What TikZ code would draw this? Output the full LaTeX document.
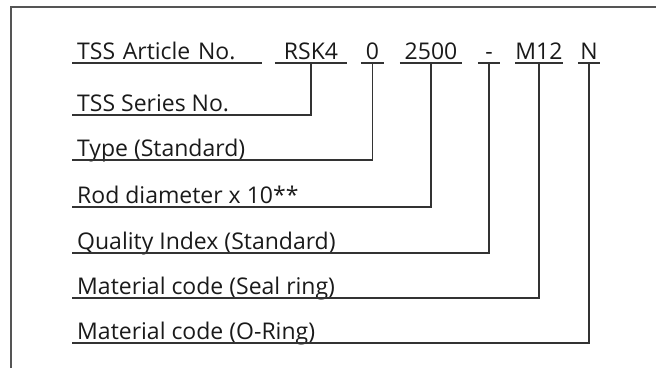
\documentclass[tikz,border=0pt]{standalone}
\usepackage{fontspec}
\setmainfont{Open Sans}
\definecolor{linec}{HTML}{333333}
\definecolor{framec}{HTML}{555555}
\definecolor{textc}{HTML}{1A1A1A}
\begin{document}
\begin{tikzpicture}[x=1pt,y=-1pt,
  ln/.style={draw=linec, line width=1.3pt},
  fr/.style={draw=framec, line width=1.5pt},
  txt/.style={inner ysep=0pt, text height=16pt, text depth=3pt,
    font=\fontsize{23}{27}\selectfont, text=textc},
  code/.style={txt, anchor=south, inner xsep=0pt},
  lab/.style={txt, anchor=south west, inner xsep=5pt}]
\useasboundingbox (0,0) rectangle (656,368);
% frame (open to the right and bottom)
\coordinate (fb) at (11,368);
\coordinate (ftl) at (11,7);
\coordinate (fr) at (656,7);
\draw[fr] (fb) -- (ftl) -- (fr);
% top row
\node[lab, text width=180pt, align=left] (art) at (72,63) {TSS Article No.};
\node[code, minimum width=72pt] (rsk) at (311,63) {RSK4};
\node[code, minimum width=23pt] (zero) at (372.5,63) {0};
\node[code, minimum width=62pt] (num) at (431,63) {2500};
\node[code, minimum width=22pt] (dash) at (489,63) {-};
\node[code, minimum width=46pt] (mat) at (539,63) {M12};
\node[code, minimum width=22pt] (ring) at (589,63) {N};
\foreach \n in {art,rsk,zero,num,dash,mat,ring}
  \draw[ln] (\n.south west) -- (\n.south east);
% labels
\node[lab] (ser) at (72,115) {TSS Series No.};
\node[lab] (typ) at (72,160) {Type (Standard)};
\node[lab] (rod) at (72,207) {Rod diameter x 10**};
\node[lab] (qual) at (72,253) {Quality Index (Standard)};
\node[lab] (seal) at (72,298) {Material code (Seal ring)};
\node[lab] (oring) at (72,343) {Material code (O-Ring)};
% connectors
\draw[ln] (rsk.south) |- (ser.south west);
\draw[ln] (zero.south) |- (typ.south west);
\draw[ln] (num.south) |- (rod.south west);
\draw[ln] (dash.south) |- (qual.south west);
\draw[ln] (mat.south) |- (seal.south west);
\draw[ln] (ring.south) |- (oring.south west);
\end{tikzpicture}
\end{document}
